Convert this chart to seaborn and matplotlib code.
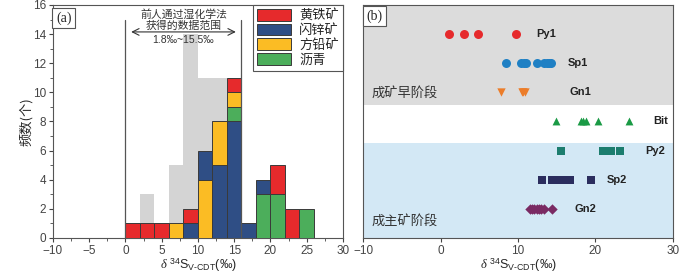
#!/usr/bin/env python3
"""
Sulfur isotope figure: (a) histogram of d34S by mineral, (b) d34S by stage
"""

import numpy as np
import pandas as pd
import matplotlib
matplotlib.use('Agg')
import matplotlib.pyplot as plt
from matplotlib.patches import Patch
from matplotlib.ticker import MultipleLocator
import seaborn as sns

# --- Panel (a): histogram data (bins of 2 permil, 0 -> 26) ---
bin_edges = [0, 2, 4, 6, 8, 10, 12, 14, 16, 18, 20, 22, 24, 26]
minerals = ['黄铁矿', '闪锌矿', '方铅矿', '沥青']
pyrite_counts = [1, 1, 1, 0, 1, 0, 0, 1, 0, 0, 2, 2, 0]
sphalerite_counts = [0, 0, 0, 0, 1, 2, 5, 8, 1, 1, 0, 0, 0]
galena_counts = [0, 0, 0, 1, 0, 4, 3, 1, 0, 0, 0, 0, 0]
bitumen_counts = [0, 0, 0, 0, 0, 0, 0, 1, 0, 3, 3, 0, 2]
previous_counts = [1, 3, 1, 5, 14, 11, 11, 0, 0, 0, 0, 0, 0]  # wet-chemistry data (grey)
previous_range = (0, 16)

# --- Panel (b): d34S values per sample group ---
row_labels = ['Py1', 'Sp1', 'Gn1', 'Bit', 'Py2', 'Sp2', 'Gn2']
py1_vals = [1.1, 3.0, 4.8, 9.8]
sp1_vals = [8.5, 10.4, 10.8, 11.0, 12.4, 13.4, 13.8, 14.0, 14.3]
gn1_vals = [7.8, 10.5, 10.7, 10.9]
bit_vals = [14.9, 18.1, 18.4, 18.8, 20.4, 24.3]
py2_vals = [15.5, 21.0, 22.0, 23.2]
sp2_vals = [13.1, 14.4, 14.8, 15.2, 15.6, 16.0, 16.4, 16.7, 19.4]
gn2_vals = [11.5, 11.8, 12.1, 12.4, 12.7, 13.0, 13.3, 14.35]

# styles
colors = {'黄铁矿': '#e62a2c', '闪锌矿': '#2f4e85', '方铅矿': '#fbbc24', '沥青': '#4cae5b'}
stack_order = ['闪锌矿', '沥青', '方铅矿', '黄铁矿']
stack_override = {10: ['方铅矿', '闪锌矿'], 18: ['沥青', '闪锌矿']}
row_style = {
    'Py1': ('o', '#e62a2c', 42),
    'Sp1': ('o', '#1f80c4', 42),
    'Gn1': ('v', '#ec7d2a', 36),
    'Bit': ('^', '#1a9a45', 32),
    'Py2': ('s', '#1c7d6e', 28),
    'Sp2': ('s', '#2b2d5e', 28),
    'Gn2': ('D', '#7a2a63', 28),
}
label_x = {'Py1': 13.7, 'Sp1': 17.8, 'Gn1': 18.0, 'Bit': 28.4,
           'Py2': 27.8, 'Sp2': 22.8, 'Gn2': 18.7}

sns.set_theme(style='ticks')
plt.rcParams['font.family'] = ['Liberation Sans', 'Noto Sans CJK SC']
plt.rcParams['mathtext.fontset'] = 'custom'
plt.rcParams['mathtext.rm'] = 'Liberation Sans'
plt.rcParams['mathtext.it'] = 'Liberation Serif:italic'
plt.rcParams['axes.edgecolor'] = '#555555'
plt.rcParams['xtick.color'] = '#444444'
plt.rcParams['ytick.color'] = '#444444'

XLABEL = r'$\mathit{\delta}$ $^{34}$S$_{\mathrm{V‐CDT}}$(‰)'
CJK = ['Noto Sans CJK SC', 'Liberation Sans']

fig = plt.figure(figsize=(7.0, 2.74), dpi=100)
ax1 = fig.add_axes([0.0757, 0.1314, 0.4143, 0.8504])
ax2 = fig.add_axes([0.519, 0.1314, 0.442, 0.8504])

# ---------------- Panel (a) ----------------
edges = np.array(bin_edges)
centers = (edges[:-1] + edges[1:]) / 2
sns.histplot(x=centers, weights=previous_counts, bins=bin_edges, color='#d4d4d4',
             alpha=1, edgecolor='none', linewidth=0, ax=ax1)

counts = dict(zip(minerals, [pyrite_counts, sphalerite_counts, galena_counts, bitumen_counts]))
for i, left in enumerate(bin_edges[:-1]):
    order = stack_override.get(left, stack_order)
    bottom = 0
    for m in order:
        c = counts[m][i]
        if c == 0:
            continue
        ax1.bar(left, c, width=2, bottom=bottom, align='edge', color=colors[m],
                edgecolor='#3a3a3a', linewidth=0.7, zorder=3)
        bottom += c

for xv in previous_range:
    ax1.plot([xv, xv], [0, 15.0], color='#555555', lw=0.9, zorder=4)
ax1.annotate('', xy=(0.4, 14.15), xytext=(15.6, 14.15),
             arrowprops=dict(arrowstyle='<->', color='#333333', lw=0.8), zorder=5)
ax1.text(8, 15.35, '前人通过湿化学法', ha='center', va='center', fontsize=7.8,
         family=CJK, color='#333333')
ax1.text(8, 14.6, '获得的数据范围', ha='center', va='center', fontsize=7.8,
         family=CJK, color='#333333')
ax1.text(8, 13.6, '1.8‰~15.5‰', ha='center', va='center', fontsize=7.5, color='#333333')

handles = [Patch(facecolor=colors[m], edgecolor='#3a3a3a', linewidth=0.7) for m in minerals]
leg = ax1.legend(handles, minerals, loc='upper right', borderaxespad=0, fancybox=False,
                 handlelength=2.6, handleheight=1.0, labelspacing=0.1, handletextpad=0.6,
                 borderpad=0.3, prop={'family': CJK, 'size': 9.5}, framealpha=1)
leg.get_frame().set_edgecolor('#555555')
leg.get_frame().set_linewidth(0.8)
leg.set_zorder(6)

ax1.text(-9.6, 15.55, '(a)', ha='left', va='top', fontsize=10, family='Liberation Serif',
         bbox=dict(boxstyle='square,pad=0.25', fc='white', ec='#555555', lw=0.8), zorder=6)

ax1.set_xlim(-10, 30)
ax1.set_ylim(0, 16)
ax1.xaxis.set_major_locator(MultipleLocator(5))
ax1.xaxis.set_minor_locator(MultipleLocator(2.5))
ax1.yaxis.set_major_locator(MultipleLocator(2))
ax1.yaxis.set_minor_locator(MultipleLocator(1))
ax1.tick_params(which='major', length=3, labelsize=8.5, width=0.8, pad=2)
ax1.tick_params(which='minor', length=2, width=0.6)
ax1.set_xlabel(XLABEL, fontsize=9, labelpad=0)
ax1.set_ylabel('频数(个)', fontsize=9.5, family=CJK, labelpad=0)
for s in ax1.spines.values():
    s.set_linewidth(0.8)

# ---------------- Panel (b) ----------------
ax2.axhspan(-1, 2.45, color='#dcdcdc', zorder=0, lw=0)
ax2.axhspan(3.75, 7, color='#d3e8f5', zorder=0, lw=0)

series = dict(zip(row_labels, [py1_vals, sp1_vals, gn1_vals, bit_vals,
                               py2_vals, sp2_vals, gn2_vals]))
for i, name in enumerate(row_labels):
    mk, col, sz = row_style[name]
    df = pd.DataFrame({'x': series[name], 'y': i})
    sns.scatterplot(data=df, x='x', y='y', marker=mk, color=col, s=sz,
                    linewidth=0, ax=ax2, zorder=3, legend=False)
    ax2.text(label_x[name], i, name, ha='center', va='center', fontsize=8,
             fontweight='bold', color='#222222')

ax2.text(-9.0, 2.05, '成矿早阶段', ha='left', va='center', fontsize=9.5, family=CJK,
         color='#333333')
ax2.text(-9.0, 6.45, '成主矿阶段', ha='left', va='center', fontsize=9.5, family=CJK,
         color='#333333')
ax2.text(-9.6, -0.85, '(b)', ha='left', va='top', fontsize=10, family='Liberation Serif',
         bbox=dict(boxstyle='square,pad=0.25', fc='white', ec='#555555', lw=0.8), zorder=6)

ax2.set_xlim(-10, 30)
ax2.set_ylim(7, -1)
ax2.set_yticks([])
ax2.xaxis.set_major_locator(MultipleLocator(10))
ax2.tick_params(which='major', length=3, labelsize=8.5, width=0.8, pad=2)
ax2.set_xlabel(XLABEL, fontsize=9, labelpad=0)
ax2.set_ylabel('')
for s in ax2.spines.values():
    s.set_linewidth(0.8)

fig.savefig('out.png', dpi=100)
plt.close(fig)
